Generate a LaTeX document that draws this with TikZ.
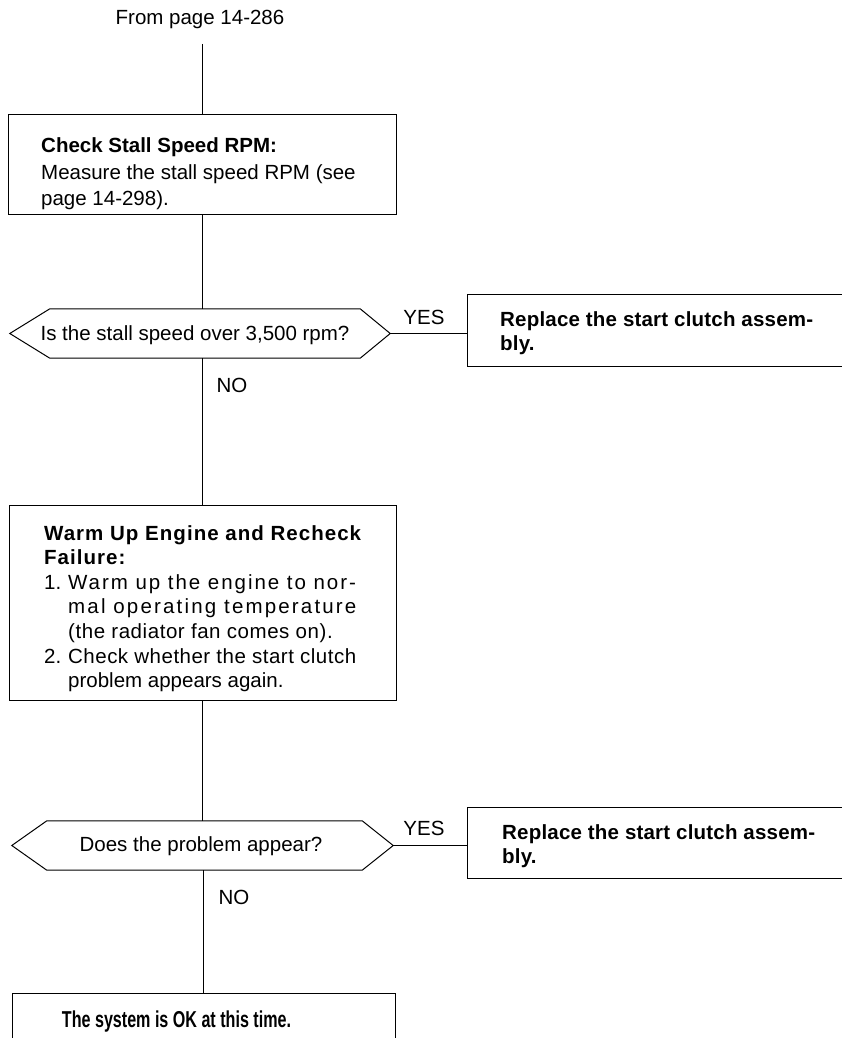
\documentclass[tikz,border=0pt]{standalone}
\usepackage{fontspec}
\setmainfont{Liberation Sans}
\newfontfamily\condfont[FakeStretch=0.7]{Liberation Sans}
\newcommand\fs{\fontsize{20.5}{24.6}\selectfont}
\newcommand\lsp[1]{\addfontfeature{LetterSpace=#1}}
\begin{document}
\begin{tikzpicture}[x=1pt,y=-1pt,
  every node/.style={inner sep=0pt, font=\fs},
  box/.style={draw, line width=1pt, rectangle, inner sep=0pt},
  frame/.style={rectangle, inner sep=0pt},
  hexline/.style={draw, line width=1pt, line join=miter},
  conn/.style={line width=1pt},
  txt/.style={anchor=base west},
  ctxt/.style={anchor=base},
  bold/.style={font=\fs\bfseries}
]
\useasboundingbox (0,0) rectangle (841,1038);

% start
\node[ctxt] (fp) at (200,25) {From page 14-286};
\coordinate (c0) at (202,44);

% box 1
\node[box, minimum width=388pt, minimum height=99pt] (b1) at (202,164.5) {};
\node[txt, bold] (b1t1) at (41,152) {Check Stall Speed RPM:};
\node[txt] (b1t2) at (41,179) {Measure the stall speed RPM (see};
\node[txt] (b1t3) at (41,205) {page 14-298).};

% decision 1
\node[frame, minimum width=380pt, minimum height=49pt] (h1) at (200,333.5) {};
\draw[hexline] (h1.west) -- ([xshift=40pt]h1.north west) -- ([xshift=-30pt]h1.north east)
  -- (h1.east) -- ([xshift=-30pt]h1.south east) -- ([xshift=40pt]h1.south west) -- cycle;
\node[ctxt] (h1t) at (195,340) {Is the stall speed over 3,500 rpm?};
\node[ctxt] (y1) at (424,324) {YES};
\node[ctxt] (n1) at (232,392) {NO};

% replace 1
\node[box, minimum width=383pt, minimum height=72pt] (r1) at (658.5,330) {};
\node[txt, bold] (r1t1) at (500,326) {\lsp{1}Replace the start clutch assem-};
\node[txt, bold] (r1t2) at (500,350) {\lsp{1}bly.};

% box 2
\node[box, minimum width=387pt, minimum height=195pt] (b2) at (202.5,602.5) {};
\node[txt, bold] (b2t1) at (44,540) {\lsp{5}Warm Up Engine and Recheck};
\node[txt, bold] (b2t2) at (44,564.6) {\lsp{5}Failure:};
\node[txt] (b2n1) at (44,589.2) {1.};
\node[txt] (b2t3) at (68,589.2) {\lsp{9.5}Warm up the engine to nor-};
\node[txt] (b2t4) at (68,613.8) {\lsp{10.6}mal operating temperature};
\node[txt] (b2t5) at (68,638.4) {\lsp{2.7}(the radiator fan comes on).};
\node[txt] (b2n2) at (44,663) {2.};
\node[txt] (b2t6) at (68,663) {\lsp{2.4}Check whether the start clutch};
\node[txt] (b2t7) at (68,687.6) {problem appears again.};

% decision 2
\node[frame, minimum width=381pt, minimum height=49pt] (h2) at (202.5,845.5) {};
\draw[hexline] (h2.west) -- ([xshift=35pt]h2.north west) -- ([xshift=-31pt]h2.north east)
  -- (h2.east) -- ([xshift=-31pt]h2.south east) -- ([xshift=35pt]h2.south west) -- cycle;
\node[ctxt] (h2t) at (201,851) {Does the problem appear?};
\node[ctxt] (y2) at (424,835) {YES};
\node[ctxt] (n2) at (234,904) {NO};

% replace 2
\node[box, minimum width=383pt, minimum height=71pt] (r3) at (658.5,842.5) {};
\node[txt, bold] (r3t1) at (502,839) {\lsp{1}Replace the start clutch assem-};
\node[txt, bold] (r3t2) at (502,863) {\lsp{1}bly.};

% final box
\node[box, minimum width=383pt, minimum height=48pt] (b4) at (203.5,1017) {};
\node[ctxt, font=\condfont\fontsize{23}{27}\selectfont\bfseries] (b4t) at (176.5,1027) {The system is OK at this time.};

% connectors
\draw[conn] (c0) -- (b1.north);
\draw[conn] (b1.south) -- (b1.south |- h1.north);
\draw[conn] (h1.east) -- (h1.east -| r1.west);
\draw[conn] (b2.north |- h1.south) -- (b2.north);
\draw[conn] (b2.south) -- (b2.south |- h2.north);
\draw[conn] (h2.east) -- (h2.east -| r3.west);
\draw[conn] (b4.north |- h2.south) -- (b4.north);
\end{tikzpicture}
\end{document}
